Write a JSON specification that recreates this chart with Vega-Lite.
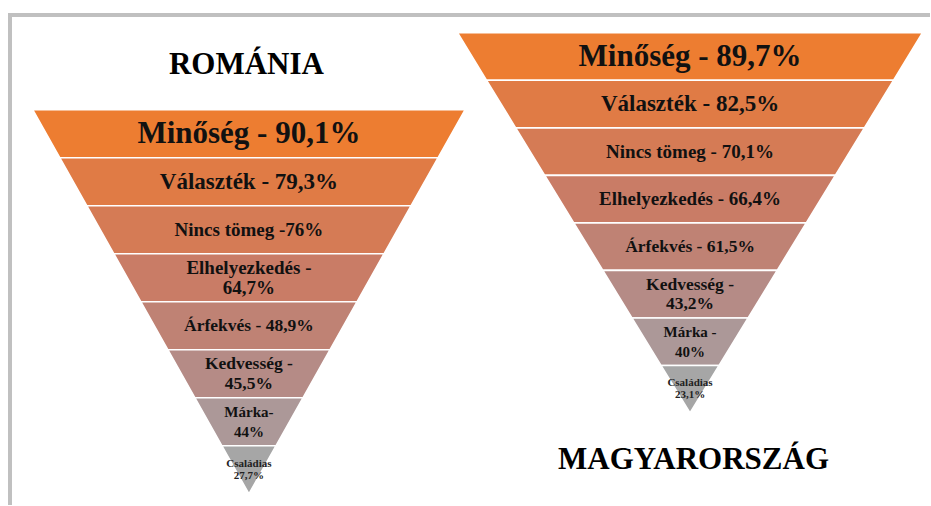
{
  "$schema": "https://vega.github.io/schema/vega-lite/v6.json",
  "width": 931,
  "height": 506,
  "autosize": {"type": "fit", "contains": "padding"},
  "padding": {"left": 7, "top": 12, "right": 0, "bottom": 0},
  "background": "white",
  "config": {"view": {"stroke": null}},
  "datasets": {
    "funnel": [
      {"country": "ROMÁNIA", "rank": 1, "label": "Minőség - 90,1%", "value": 90.1},
      {"country": "ROMÁNIA", "rank": 2, "label": "Választék - 79,3%", "value": 79.3},
      {"country": "ROMÁNIA", "rank": 3, "label": "Nincs tömeg -76%", "value": 76},
      {"country": "ROMÁNIA", "rank": 4, "label": "Elhelyezkedés -\n64,7%", "value": 64.7},
      {"country": "ROMÁNIA", "rank": 5, "label": "Árfekvés - 48,9%", "value": 48.9},
      {"country": "ROMÁNIA", "rank": 6, "label": "Kedvesség -\n45,5%", "value": 45.5},
      {"country": "ROMÁNIA", "rank": 7, "label": "Márka-\n44%", "value": 44},
      {"country": "ROMÁNIA", "rank": 8, "label": "Családias\n27,7%", "value": 27.7},
      {"country": "MAGYARORSZÁG", "rank": 1, "label": "Minőség - 89,7%", "value": 89.7},
      {"country": "MAGYARORSZÁG", "rank": 2, "label": "Választék - 82,5%", "value": 82.5},
      {"country": "MAGYARORSZÁG", "rank": 3, "label": "Nincs tömeg  - 70,1%", "value": 70.1},
      {"country": "MAGYARORSZÁG", "rank": 4, "label": "Elhelyezkedés - 66,4%", "value": 66.4},
      {"country": "MAGYARORSZÁG", "rank": 5, "label": "Árfekvés - 61,5%", "value": 61.5},
      {"country": "MAGYARORSZÁG", "rank": 6, "label": "Kedvesség -\n43,2%", "value": 43.2},
      {"country": "MAGYARORSZÁG", "rank": 7, "label": "Márka  -\n40%", "value": 40},
      {"country": "MAGYARORSZÁG", "rank": 8, "label": "Családias\n23,1%", "value": 23.1}
    ]
  },
  "layer": [
    {
      "data": {"name": "funnel"},
      "transform": [
        {"calculate": "datum.country === 'ROMÁNIA' ? 4.969 : 14.142", "as": "cx"},
        {"calculate": "datum.country === 'ROMÁNIA' ? 1.983 : 0.372", "as": "y0"},
        {"calculate": "datum.country === 'ROMÁNIA' ? 4.494 : 4.835", "as": "hw"},
        {"calculate": "datum.country === 'ROMÁNIA' ? 1.004 : 0.994", "as": "sh"},
        {"calculate": "datum.y0 + (datum.rank - 1) * datum.sh", "as": "ya"},
        {"calculate": "datum.y0 + datum.rank * datum.sh", "as": "yb"},
        {"fold": ["ya", "yb"], "as": ["edge", "yy"]},
        {"calculate": "datum.hw * (8 - (datum.yy - datum.y0) / datum.sh) / 8", "as": "half"},
        {"calculate": "datum.cx - datum.half", "as": "xl"},
        {"calculate": "datum.cx + datum.half", "as": "xr"}
      ],
      "mark": {"type": "area", "orient": "horizontal", "stroke": "white", "strokeWidth": 1.6, "opacity": 1, "fillOpacity": 1},
      "encoding": {
        "y": {"field": "yy", "type": "quantitative", "scale": {"domain": [0, 10.207], "reverse": true, "nice": false, "zero": false}, "axis": null},
        "x": {"field": "xl", "type": "quantitative", "scale": {"domain": [0, 19.091], "nice": false, "zero": false}, "axis": null},
        "x2": {"field": "xr"},
        "detail": [{"field": "country"}, {"field": "rank"}],
        "color": {
          "field": "rank", "type": "ordinal",
          "scale": {"domain": [1, 2, 3, 4, 5, 6, 7, 8], "range": ["#ED7D31", "#E07B45", "#D57B55", "#C97C66", "#BF8274", "#B58B86", "#AC9898", "#A6A6A6"]},
          "legend": null
        }
      }
    },
    {
      "data": {"name": "funnel"},
      "transform": [
        {"filter": "datum.rank < 8"},
        {"calculate": "datum.country === 'ROMÁNIA' ? 4.969 : 14.142", "as": "cx"},
        {"calculate": "datum.country === 'ROMÁNIA' ? 1.983 : 0.372", "as": "y0"},
        {"calculate": "datum.country === 'ROMÁNIA' ? 1.004 : 0.994", "as": "sh"},
        {"calculate": "datum.y0 + (datum.rank - 0.5) * datum.sh - (indexof(datum.label, '\\n') >= 0 ? 9.75 / 48.4 : 0)", "as": "yc"}
      ],
      "mark": {"type": "text", "font": "Liberation Serif", "fontWeight": "bold", "fill": "#111111", "lineBreak": "\n", "lineHeight": 19.5, "baseline": "middle", "align": "center"},
      "encoding": {
        "y": {"field": "yc", "type": "quantitative", "axis": null},
        "x": {"field": "cx", "type": "quantitative", "axis": null},
        "text": {"field": "label"},
        "size": {
          "field": "rank", "type": "quantitative",
          "scale": {"type": "threshold", "domain": [1.5, 2.5, 3.5, 4.5, 5.5, 6.5], "range": [31, 23, 19, 19, 17.5, 17.5, 15]},
          "legend": null
        }
      }
    },
    {
      "data": {"name": "funnel"},
      "transform": [
        {"filter": "datum.rank === 8"},
        {"calculate": "datum.country === 'ROMÁNIA' ? 4.969 : 14.142", "as": "cx"},
        {"calculate": "datum.country === 'ROMÁNIA' ? 1.983 : 0.372", "as": "y0"},
        {"calculate": "datum.country === 'ROMÁNIA' ? 1.004 : 0.994", "as": "sh"},
        {"calculate": "datum.y0 + (datum.rank - 0.5) * datum.sh - 6 / 48.4", "as": "yc"}
      ],
      "mark": {"type": "text", "font": "Liberation Serif", "fontWeight": "bold", "fill": "#222222", "lineBreak": "\n", "lineHeight": 12, "fontSize": 11, "baseline": "middle", "align": "center"},
      "encoding": {
        "y": {"field": "yc", "type": "quantitative", "axis": null},
        "x": {"field": "cx", "type": "quantitative", "axis": null},
        "text": {"field": "label"}
      }
    },
    {
      "data": {"name": "funnel"},
      "transform": [
        {"filter": "datum.rank === 1"},
        {"calculate": "datum.country === 'ROMÁNIA' ? 4.917 : 14.215", "as": "tx"},
        {"calculate": "datum.country === 'ROMÁNIA' ? 1.054 : 9.318", "as": "ty"}
      ],
      "mark": {"type": "text", "font": "Liberation Serif", "fontWeight": "bold", "fill": "#000000", "fontSize": 31, "baseline": "middle", "align": "center"},
      "encoding": {
        "y": {"field": "ty", "type": "quantitative", "axis": null},
        "x": {"field": "tx", "type": "quantitative", "axis": null},
        "text": {"field": "country"}
      }
    },
    {
      "data": {"values": [{"k": 1}]},
      "mark": {"type": "rule", "stroke": "#C0C0C0", "strokeWidth": 4, "strokeCap": "square"},
      "encoding": {"x": {"datum": 0, "type": "quantitative", "axis": null}}
    },
    {
      "data": {"values": [{"k": 1}]},
      "mark": {"type": "rule", "stroke": "#C0C0C0", "strokeWidth": 4, "strokeCap": "square"},
      "encoding": {"y": {"datum": 0, "type": "quantitative", "axis": null}}
    }
  ]
}
